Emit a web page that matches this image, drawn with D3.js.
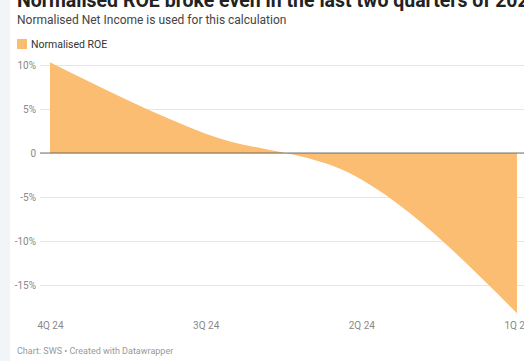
<!DOCTYPE html>
<html><head><meta charset="utf-8">
<script src="https://cdn.jsdelivr.net/npm/d3@7"></script>
<style>
html,body{margin:0;padding:0;background:#fff;overflow:hidden}
svg{display:block;font-family:Roboto,"Noto Sans",sans-serif}
</style></head>
<body>
<script>
const quarters = ["4Q 24", "3Q 24", "2Q 24", "1Q 24"];
const roeValues = [10.3, 2.2, -3.0, -18.2];
const yTicks = [10, 5, 0, -5, -10, -15];
const yTickLabels = ["10%", "5%", "0", "-5%", "-10%", "-15%"];
const seriesName = "Normalised ROE";
const titleText = "Normalised ROE broke even in the last two quarters of 2024";
const subtitleText = "Normalised Net Income is used for this calculation";
const footerText = "Chart: SWS • Created with Datawrapper";

const W = 524, H = 361;
const svg = d3.select("body").append("svg").attr("width", W).attr("height", H);

svg.append("rect").attr("x", 0).attr("y", 0).attr("width", 10).attr("height", H).attr("fill", "#f2f5f7");

svg.append("text").attr("x", 17).attr("y", 7).attr("font-size", 19.5).attr("font-weight", 700)
  .attr("fill", "#222").text(titleText);
svg.append("text").attr("x", 17).attr("y", 24).attr("font-size", 12)
  .attr("fill", "#444").text(subtitleText);

svg.append("rect").attr("x", 17).attr("y", 39).attr("width", 10).attr("height", 10).attr("fill", "#fbbd72");
svg.append("text").attr("x", 31).attr("y", 48).attr("font-size", 10.5).attr("fill", "#333").text(seriesName);

const x = d3.scalePoint().domain(quarters).range([50, 517]);
const y = d3.scaleLinear().domain([0, 10]).range([153, 65]);

// gridlines
const yAxis = d3.axisLeft(y).tickValues(yTicks).tickSize(-(W - 40))
  .tickFormat((d, i) => yTickLabels[i]);
const gy = svg.append("g").attr("transform", "translate(40,0)").call(yAxis);
gy.select(".domain").remove();
gy.selectAll(".tick line").attr("stroke", "#e6e6e6").attr("stroke-width", 1);
gy.selectAll(".tick text").attr("x", -4).attr("font-size", 10).attr("fill", "#888")
  .attr("font-family", "Roboto,'Noto Sans',sans-serif");

// area
const area = d3.area().x((d, i) => x(quarters[i])).y0(y(0)).y1(d => y(d)).curve(d3.curveMonotoneX);
svg.append("path").datum(roeValues).attr("d", area).attr("fill", "#fbbd72");

// zero line
svg.append("line").attr("x1", 40).attr("x2", W).attr("y1", y(0)).attr("y2", y(0))
  .attr("stroke", "#555").attr("stroke-width", 1).attr("opacity", 0.8);

// x axis
const xAxis = d3.axisBottom(x).tickSize(0).tickPadding(0);
const gx = svg.append("g").attr("transform", "translate(0,322)").call(xAxis);
gx.select(".domain").remove();
gx.selectAll(".tick text").attr("font-size", 10).attr("fill", "#888")
  .attr("font-family", "Roboto,'Noto Sans',sans-serif");

svg.append("text").attr("x", 17).attr("y", 354).attr("font-size", 9).attr("fill", "#999").text(footerText);
</script>
</body></html>
